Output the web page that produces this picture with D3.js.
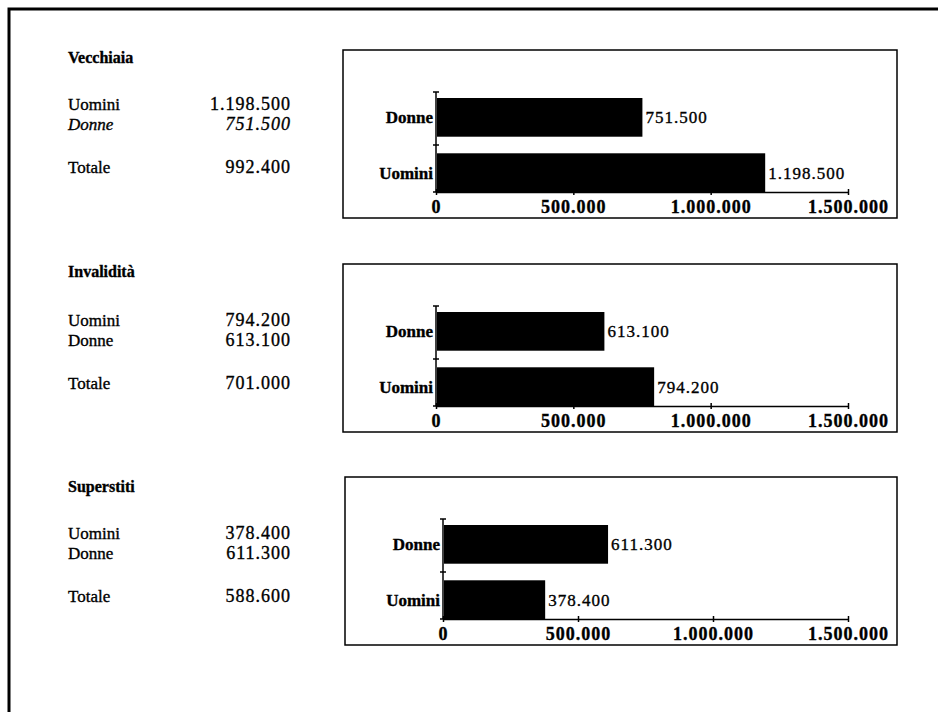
<!DOCTYPE html>
<html>
<head>
<meta charset="utf-8">
<script src="https://cdn.jsdelivr.net/npm/d3@7"></script>
<style>
  body { margin: 0; background: #fff; }
  svg text { font-family: "Liberation Serif", "Times New Roman", serif; fill: #000; stroke: #000; stroke-width: 0.35px; }
</style>
</head>
<body>
<svg width="938" height="712"></svg>
<script>
// data
var sections = ["Vecchiaia", "Invalidità", "Superstiti"];
var categories = ["Donne", "Uomini"];
var uomini = [1198500, 794200, 378400];
var donne = [751500, 613100, 611300];
var totale = [992400, 701000, 588600];
var tickValues = [0, 500000, 1000000, 1500000];

var svg = d3.select("svg"),
	width = +svg.attr("width"),
	height = +svg.attr("height");

// italian number format (1.198.500)
var it = d3.formatLocale({ decimal: ",", thousands: ".", grouping: [3], currency: ["", ""] });
var fmt = it.format(",d");

// outer frame (top + left, the rest is cut off in the scan)
svg.append("path")
	.attr("d", "M9,712 L9,9 L938,9")
	.attr("fill", "none")
	.attr("stroke", "#000")
	.attr("stroke-width", 3);

var panelTop = [50, 264, 477];
var boxX = [343, 343, 345];
var axisX0 = [436, 436, 443];
var axisTop = 42, axisBottom = 142;

var x = d3.scaleLinear().domain([0, 1500000]);
var y = d3.scaleBand().domain(categories).range([48, axisBottom]).paddingInner(0.3).paddingOuter(0);

sections.forEach(function (name, i) {
	var top = panelTop[i];
	var g = svg.append("g").attr("transform", "translate(0," + top + ")");

	// left table
	var t = g.append("g").attr("class", "table");
	t.append("text").attr("x", 68).attr("y", i === 2 ? 15 : 13)
		.style("font-size", "16px").style("font-weight", "bold").text(name);
	var dy = i === 0 ? 60 : 62;
	var rows = [["Uomini", uomini[i], dy, "normal"], ["Donne", donne[i], dy + 20, i === 0 ? "italic" : "normal"], ["Totale", totale[i], dy + 63, "normal"]];
	rows.forEach(function (r) {
		t.append("text").attr("x", 68).attr("y", r[2])
			.style("font-size", "17px").style("font-style", r[3]).text(r[0]);
		t.append("text").attr("x", 291).attr("y", r[2]).attr("text-anchor", "end")
			.style("font-size", "18px").style("letter-spacing", "1px").style("font-style", r[3]).text(fmt(r[1]));
	});

	// chart box
	g.append("rect")
		.attr("x", boxX[i]).attr("y", 0)
		.attr("width", 897 - boxX[i]).attr("height", 168)
		.attr("fill", "none").attr("stroke", "#000").attr("stroke-width", 1.5);

	x.range([axisX0[i], 848]);
	var vals = { "Donne": donne[i], "Uomini": uomini[i] };

	// bars
	g.selectAll("rect.bar")
		.data(categories)
		.enter()
		.append("rect")
		.attr("class", "bar")
		.attr("x", x(0) + 1)
		.attr("y", function (d) { return y(d); })
		.attr("width", function (d) { return x(vals[d]) - x(0) - 1; })
		.attr("height", y.bandwidth())
		.attr("fill", "#000");

	// value labels
	g.selectAll("text.val")
		.data(categories)
		.enter()
		.append("text")
		.attr("class", "val")
		.attr("x", function (d) { return x(vals[d]) + 3; })
		.attr("y", function (d) { return y(d) + y.bandwidth() / 2 + 6; })
		.style("font-size", "17px").style("letter-spacing", "1px")
		.text(function (d) { return fmt(vals[d]); });

	// x axis
	var xa = g.append("g")
		.attr("transform", "translate(0," + axisBottom + ")")
		.call(d3.axisBottom(x).tickValues(tickValues).tickFormat(fmt).tickSizeInner(3).tickSizeOuter(0).tickPadding(5));
	xa.select(".domain").attr("stroke-width", 1.5);
	xa.selectAll(".tick line").attr("y1", -3).attr("stroke-width", 1.5);
	xa.selectAll(".tick text").style("font-size", "18px").style("font-weight", "bold")
		.style("letter-spacing", "1px").style("font-family", "Liberation Serif");

	// y axis (ticks on category boundaries)
	var mid = y("Uomini") - y.step() * y.paddingInner() / 2;
	var ya = g.append("g").attr("transform", "translate(" + x(0) + ",0)");
	ya.append("line").attr("y1", axisTop).attr("y2", axisBottom).attr("stroke", "#000").attr("stroke-width", 1.5);
	ya.selectAll("line.tk")
		.data([axisTop, mid, axisBottom])
		.enter()
		.append("line")
		.attr("class", "tk")
		.attr("x1", -3).attr("x2", 3)
		.attr("y1", function (d) { return d; }).attr("y2", function (d) { return d; })
		.attr("stroke", "#000").attr("stroke-width", 1.5);
	ya.selectAll("text.cat")
		.data(categories)
		.enter()
		.append("text")
		.attr("class", "cat")
		.attr("x", -3)
		.attr("y", function (d) { return y(d) + y.bandwidth() / 2 + 6; })
		.attr("text-anchor", "end")
		.style("font-size", "17px").style("font-weight", "bold")
		.text(function (d) { return d; });
});
</script>
</body>
</html>
